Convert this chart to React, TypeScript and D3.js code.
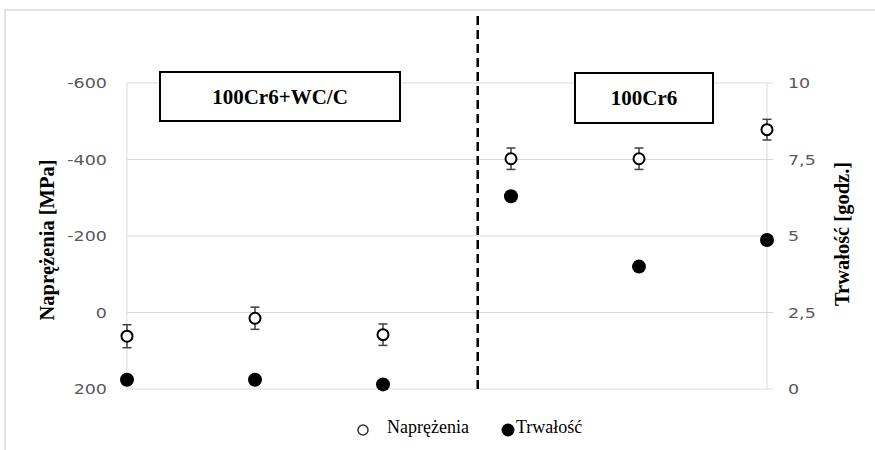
import React from "react";
import { scaleLinear } from "d3";

const width = 875, height = 450

// six samples: three coated, three uncoated
const samples = [0, 1, 2, 3, 4, 5]
const stress = [62, 15, 58, -402, -402, -478]
const stressErr = [30, 29, 28, 28, 28, 27]
const life = [0.3, 0.3, 0.15, 6.3, 4.0, 4.87]

const stressTicks = [-600, -400, -200, 0, 200]
const lifeTicks = [10, 7.5, 5, 2.5, 0]
const lifeTickLabels = ["10", "7,5", "5", "2,5", "0"]
const dividerAt = 2.74

const x = scaleLinear().domain([0, 5]).range([127, 767])
const yL = scaleLinear().domain([200, -600]).range([389, 83])
const yR = scaleLinear().domain([0, 10]).range([389, 83])

const tickFont = "'DejaVu Sans', sans-serif"
const serif = "'Liberation Serif', 'Times New Roman', serif"

const App = () => {
  return <svg width={width} height={height} style={{ position: "absolute", left: 0, top: 0 }}>
    <rect x={5} y={10} width={900} height={460} fill="white" stroke="#d9d9d9" strokeWidth={1.5} />

    {stressTicks.map(t =>
      <line key={t} x1={x(0)} x2={x(5)} y1={yL(t)} y2={yL(t)} stroke="#d9d9d9" strokeWidth={1} />
    )}
    <line x1={x(0)} x2={x(0)} y1={yL(-600)} y2={yL(200)} stroke="#d9d9d9" />
    <line x1={x(5)} x2={x(5)} y1={yL(-600)} y2={yL(200)} stroke="#d9d9d9" />
    {lifeTicks.map(t =>
      <line key={t} x1={x(5)} x2={x(5) + 6} y1={yR(t)} y2={yR(t)} stroke="#d9d9d9" />
    )}

    {stressTicks.map(t =>
      <text key={t} transform={`translate(107,${yL(t)}) scale(1.25,1)`} dy="0.36em" textAnchor="end" fontFamily={tickFont} fontSize={14} fill="#595959">{t}</text>
    )}
    {lifeTicks.map((t, i) =>
      <text key={t} transform={`translate(788,${yR(t)}) scale(1.25,1)`} dy="0.36em" fontFamily={tickFont} fontSize={14} fill="#595959">{lifeTickLabels[i]}</text>
    )}

    <text transform={`translate(54,240) rotate(-90)`} textAnchor="middle" fontFamily={serif} fontWeight="bold" fontSize={20.5}>Naprężenia [MPa]</text>
    <text transform={`translate(849,234) rotate(-90)`} textAnchor="middle" fontFamily={serif} fontWeight="bold" fontSize={20.5}>Trwałość [godz.]</text>

    <line x1={x(dividerAt)} x2={x(dividerAt)} y1={16} y2={yL(200)} stroke="black" strokeWidth={2.5} strokeDasharray="9,5" />

    <rect x={160} y={72} width={240} height={49} fill="white" stroke="black" strokeWidth={2} />
    <text x={280} y={97} dy="0.35em" textAnchor="middle" fontFamily={serif} fontWeight="bold" fontSize={21}>100Cr6+WC/C</text>
    <rect x={575} y={73} width={138} height={50} fill="white" stroke="black" strokeWidth={2} />
    <text x={644} y={98} dy="0.35em" textAnchor="middle" fontFamily={serif} fontWeight="bold" fontSize={21}>100Cr6</text>

    {samples.map(i => {
      const cx = x(i), lo = yL(stress[i] - stressErr[i]), hi = yL(stress[i] + stressErr[i])
      return <g key={"e" + i} stroke="#404040" strokeWidth={1.5}>
        <line x1={cx} x2={cx} y1={lo} y2={hi} />
        <line x1={cx - 4.5} x2={cx + 4.5} y1={lo} y2={lo} />
        <line x1={cx - 4.5} x2={cx + 4.5} y1={hi} y2={hi} />
      </g>
    })}
    {samples.map(i =>
      <circle key={"s" + i} cx={x(i)} cy={yL(stress[i])} r={5.5} fill="white" stroke="black" strokeWidth={2} />
    )}
    {samples.map(i =>
      <circle key={"l" + i} cx={x(i)} cy={yR(life[i])} r={7} fill="black" />
    )}

    <circle cx={363} cy={430} r={5} fill="white" stroke="#333" strokeWidth={1.5} />
    <text x={387} y={433} fontFamily={serif} fontSize={18}>Naprężenia</text>
    <circle cx={508} cy={430} r={6.5} fill="black" />
    <text x={516} y={433} fontFamily={serif} fontSize={18}>Trwałość</text>
  </svg>
}

export default App;
